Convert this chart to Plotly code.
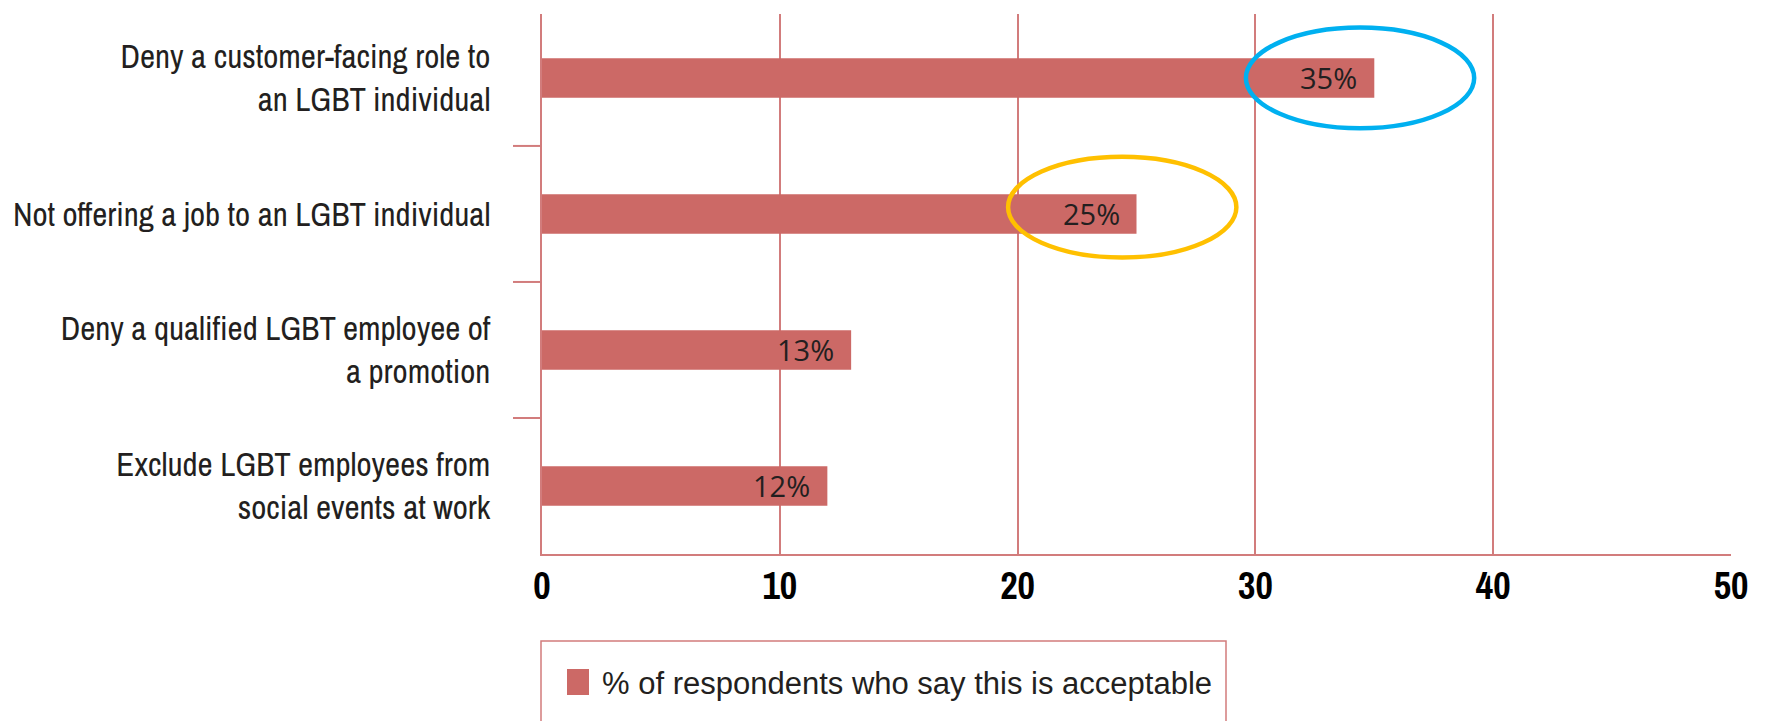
import plotly.graph_objects as go

# Survey items (top to bottom) and share of respondents who find them acceptable
categories = [
    "Deny a customer-facing role to<br>an LGBT individual",
    "Not offering a job to an LGBT individual",
    "Deny a qualified LGBT employee of<br>a promotion",
    "Exclude LGBT employees from<br>social events at work",
]
values = [35, 25, 13, 12]
x_ticks = [0, 10, 20, 30, 40, 50]
series_name = "% of respondents who say this is acceptable"

# Items circled for emphasis: index -> outline colour
highlights = {0: "#00B0F0", 1: "#FFC000"}

W, H = 1768, 721
M_L, M_R, M_T, M_B = 542, 37, 14, 167
PLOT_W = W - M_L - M_R
PLOT_H = H - M_T - M_B

BAR = "#CC6966"
GRID = "#D27C7C"
TEXT = "#231F20"
NARROW = "Archivo Narrow, Liberation Sans Narrow, DejaVu Sans Condensed, sans-serif"


def px_to_paper_x(px):
    return (px - M_L) / PLOT_W


def px_to_paper_y(py):
    return (H - M_B - py) / PLOT_H


idx = list(range(len(categories)))

fig = go.Figure()
fig.add_trace(go.Bar(
    x=values,
    y=idx,
    orientation="h",
    width=0.29,
    marker=dict(color=BAR, line=dict(width=0)),
    name=series_name,
    showlegend=False,
    hoverinfo="skip",
))

# Value labels inside the bar ends
for i, v in zip(idx, values):
    fig.add_annotation(
        x=v, y=i, xref="x", yref="y",
        text=f"{v}%", showarrow=False,
        xanchor="right", yanchor="middle", xshift=-15,
        font=dict(family="Open Sans, sans-serif", size=29, color=TEXT),
    )

shapes = []
# Category separators to the left of the value axis
for i in idx[:-1]:
    shapes.append(dict(
        type="line", xref="paper", yref="y",
        x0=px_to_paper_x(513), x1=0, y0=i + 0.5, y1=i + 0.5,
        line=dict(color=GRID, width=2),
    ))

# Emphasis ellipses around the bar ends
for i, colour in highlights.items():
    v = values[i]
    cy = i - (0.05 if i else 0.0)
    shapes.append(dict(
        type="circle", xref="x", yref="y",
        x0=v - 5.4, x1=v + 4.2, y0=cy - 0.37, y1=cy + 0.37,
        line=dict(color=colour, width=4.5),
        fillcolor="rgba(0,0,0,0)",
    ))

# Legend frame, swatch and caption
shapes.append(dict(
    type="rect", xref="paper", yref="paper",
    x0=px_to_paper_x(541), x1=px_to_paper_x(1226),
    y0=px_to_paper_y(641), y1=px_to_paper_y(745),
    line=dict(color=GRID, width=1.5), fillcolor="rgba(0,0,0,0)",
))
shapes.append(dict(
    type="rect", xref="paper", yref="paper",
    x0=px_to_paper_x(567), x1=px_to_paper_x(589),
    y0=px_to_paper_y(669), y1=px_to_paper_y(695),
    line=dict(width=0), fillcolor=BAR,
))
fig.add_annotation(
    x=px_to_paper_x(600), y=px_to_paper_y(683), xref="paper", yref="paper",
    text=series_name, showarrow=False, xanchor="left", yanchor="middle",
    font=dict(family="Liberation Sans, sans-serif", size=31, color=TEXT),
)

fig.update_layout(
    width=W, height=H,
    margin=dict(l=M_L, r=M_R, t=M_T, b=M_B, autoexpand=False),
    paper_bgcolor="white", plot_bgcolor="white",
    shapes=shapes,
    showlegend=False,
    xaxis=dict(
        range=[0, 50], tickvals=x_ticks, ticktext=[str(t) for t in x_ticks],
        showgrid=True, gridcolor=GRID, gridwidth=1.5,
        showline=True, linecolor=GRID, linewidth=2,
        zeroline=False, ticks="", automargin=False,
        ticklabelstandoff=-3,
        tickfont=dict(family=NARROW, size=38, color="black", weight="bold"),
        fixedrange=True,
    ),
    yaxis=dict(
        range=[3.5, -0.47],
        tickvals=idx, ticktext=categories,
        showgrid=False, zeroline=False,
        showline=True, linecolor=GRID, linewidth=2,
        ticks="", ticklabelstandoff=43, automargin=False,
        tickfont=dict(family=NARROW, size=33, color=TEXT),
        fixedrange=True,
    ),
)

fig.write_html("out.html", config={"displayModeBar": False})
